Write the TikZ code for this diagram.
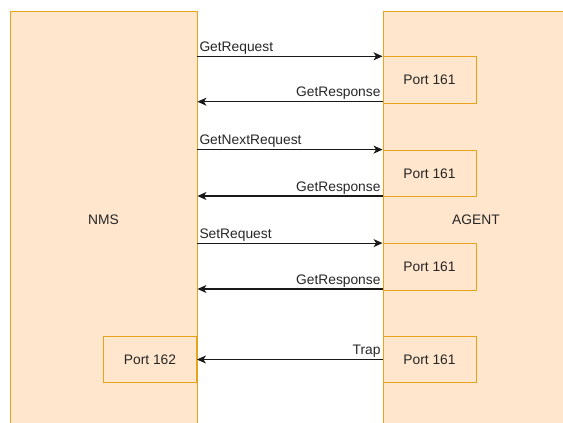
\documentclass[tikz,border=0pt]{standalone}
\usepackage{fontspec}
\setmainfont{Liberation Sans}
\usepackage{tikz}
\usetikzlibrary{arrows.meta, calc}

\definecolor{boxfill}{HTML}{FFE6CC}
\definecolor{boxline}{HTML}{E6A41C}
\definecolor{txt}{HTML}{262626}

\tikzset{
	box/.style={draw=boxline, fill=boxfill, line width=0.9pt, text=txt, inner sep=0pt},
	port/.style={box, minimum width=93pt, minimum height=46.5pt},
	msg/.style={-{Stealth[length=9pt, width=8pt, inset=2.5pt]}, line width=1.1pt, black!90},
	lbl/.style={text=txt, inner sep=1.5pt}
}

\begin{document}
\begin{tikzpicture}[x=1pt, y=1pt, font=\fontsize{13.8}{16}\selectfont]
		\useasboundingbox (0, 0) rectangle (563, -423);
		\clip (0, 0) rectangle (563, -423);

		\node[box, minimum width=187pt, minimum height=418pt] (nms) at (103.5, -220) {NMS};
		\node[box, minimum width=186pt, minimum height=418pt] (agent) at (476, -220) {AGENT};

		\node[port] (p1) at (429.5, -80) {Port 161};
		\node[port] (p2) at (429.5, -173.3) {Port 161};
		\node[port] (p3) at (429.5, -266.8) {Port 161};
		\node[port] (p4) at (429.5, -359.5) {Port 161};
		\node[port] (p162) at (150, -359.5) {Port 162};

		\coordinate (a1) at ($(p1.south west) + (0, 2)$);
		\coordinate (a2) at ($(p2.south west) + (0, 1)$);
		\coordinate (a3) at ($(p3.south west) + (0, 1.5)$);

		\path (nms.east |- p1.north west) edge[msg] node[lbl, pos=0, anchor=south west]{GetRequest} (p1.north west);
		\path (a1) edge[msg] node[lbl, pos=0, anchor=south east]{GetResponse} (nms.east |- a1);
		\path (nms.east |- p2.north west) edge[msg] node[lbl, pos=0, anchor=south west]{GetNextRequest} (p2.north west)
			  (a2) edge[msg] node[lbl, pos=0, anchor=south east]{GetResponse} (nms.east |- a2)
			  (nms.east |- p3.north west) edge[msg] node[lbl, pos=0, anchor=south west]{SetRequest} (p3.north west)
			  (a3) edge[msg] node[lbl, pos=0, anchor=south east]{GetResponse} (nms.east |- a3)
			  (p4.west) edge[msg] node[lbl, pos=0, anchor=south east]{Trap} (p162.east);
	\end{tikzpicture}
\end{document}
